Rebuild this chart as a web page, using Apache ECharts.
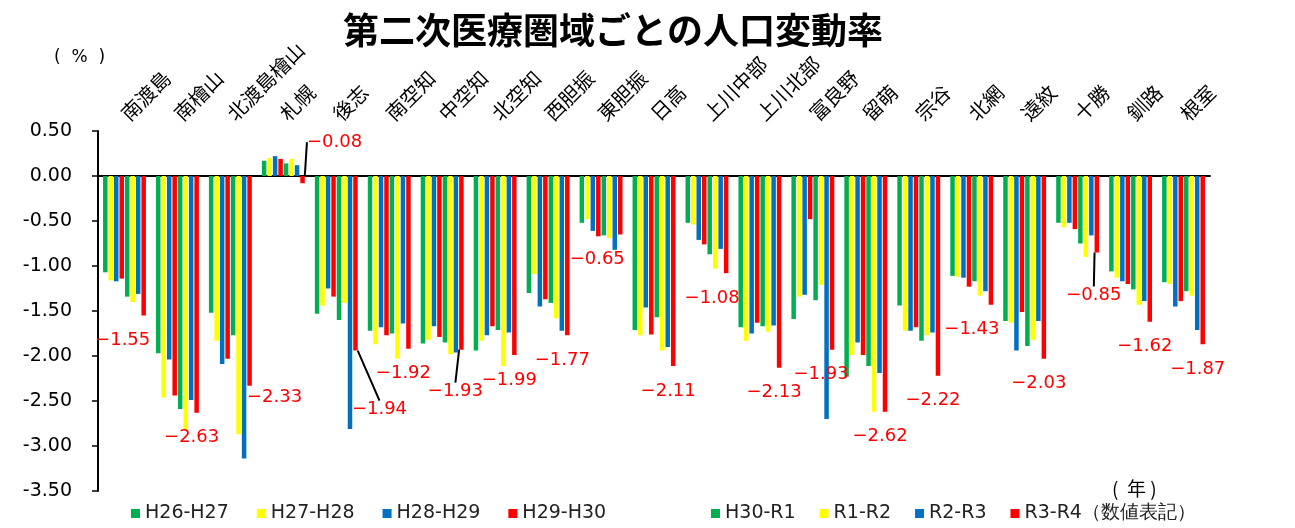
<!DOCTYPE html>
<html>
<head>
<meta charset="utf-8">
<script src="https://cdn.jsdelivr.net/npm/echarts@6/dist/echarts.min.js"></script>
<style>
html,body{margin:0;padding:0;background:#fff;}
#chart{width:1295px;height:528px;}
</style>
</head>
<body>
<div id="chart"></div>
<script>
var categories = ['南渡島','南檜山','北渡島檜山','札幌','後志','南空知','中空知','北空知','西胆振','東胆振','日高','上川中部','上川北部','富良野','留萌','宗谷','北網','遠紋','十勝','釧路','根室'];
var seriesNames = ['H26-H27','H27-H28','H28-H29','H29-H30','H30-R1','R1-R2','R2-R3','R3-R4（数値表記）'];
var h26_h27 = [-1.07,-1.97,-1.52,0.17,-1.53,-1.72,-1.86,-1.94,-1.30,-0.52,-1.71,-0.52,-1.68,-1.59,-2.23,-1.44,-1.11,-1.61,-0.52,-1.06,-1.18];
var h27_h28 = [-1.16,-2.46,-1.83,0.20,-1.44,-1.87,-1.82,-1.83,-1.09,-0.48,-1.77,-0.54,-1.83,-1.34,-1.99,-1.72,-1.12,-1.63,-0.57,-1.13,-1.20];
var h28_h29 = [-1.17,-2.04,-2.09,0.22,-1.25,-1.68,-1.67,-1.77,-1.45,-0.61,-1.46,-0.71,-1.75,-1.32,-1.85,-1.72,-1.13,-1.94,-0.52,-1.17,-1.45];
var h29_h30 = [-1.14,-2.44,-2.03,0.19,-1.34,-1.77,-1.79,-1.67,-1.37,-0.67,-1.76,-0.76,-1.63,-0.48,-1.99,-1.68,-1.23,-1.51,-0.59,-1.20,-1.39];
var h30_r1  = [-1.34,-2.59,-1.77,0.14,-1.60,-1.75,-1.85,-1.71,-1.41,-0.66,-1.57,-0.87,-1.67,-1.38,-2.11,-1.83,-1.17,-1.89,-0.75,-1.26,-1.28];
var r1_r2   = [-1.40,-2.82,-2.87,0.19,-1.41,-2.03,-1.98,-2.11,-1.58,-0.69,-1.94,-1.03,-1.73,-1.21,-2.62,-1.77,-1.33,-1.82,-0.90,-1.43,-1.33];
var r2_r3   = [-1.31,-2.49,-3.14,0.12,-2.81,-1.64,-1.96,-1.74,-1.72,-0.82,-1.90,-0.81,-1.66,-2.70,-2.19,-1.74,-1.28,-1.61,-0.66,-1.39,-1.71];
var r3_r4   = [-1.55,-2.63,-2.33,-0.08,-1.94,-1.92,-1.93,-1.99,-1.77,-0.65,-2.11,-1.08,-2.13,-1.93,-2.62,-2.22,-1.43,-2.03,-0.85,-1.62,-1.87];
var yTicks = {min:-3.5, max:0.5, interval:0.5};

/* label placement tweaks (style only): shift of the value label from its default spot */
var labelShift = {
  '南渡島':[-21,0], '北渡島檜山':[25,-13], '札幌':[32,-66], '後志':[24,34],
  '中空知':[-6,17], '東胆振':[-23,0], '上川中部':[-14,0], '富良野':[-11,0],
  '北網':[-19,0], '十勝':[-3,18]
};
var withGuide = {'札幌':1, '後志':1, '中空知':1, '十勝':1};

var allValues = [h26_h27,h27_h28,h28_h29,h29_h30,h30_r1,r1_r2,r2_r3,r3_r4];
var colors = ['#00B050','#FFFF00','#0070C0','#FF0000','#00B050','#FFFF00','#0070C0','#FF0000'];

var chart = echarts.init(document.getElementById('chart'), null, {renderer:'canvas'});

var series = allValues.map(function(vals, i){
  var s = {
    name: seriesNames[i],
    type: 'bar',
    xAxisIndex: 0,
    data: vals,
    itemStyle: {color: colors[i]},
    barGap: '22%',
    barCategoryGap: '19%',
    animation: false
  };
  if (i === 7) {
    s.label = {
      show: true,
      position: 'bottom',
      distance: 16,
      color: '#FF0000',
      fontFamily: 'DejaVu Sans',
      fontSize: 18,
      formatter: function(p){ return p.value.toFixed(2).replace('-', '\u2212'); }
    };
    s.labelLine = {show: false};
    s.labelLayout = function(p){
      var sh = labelShift[categories[p.dataIndex]] || [-5, 0];
      return {dx: sh[0], dy: sh[1], hideOverlap: false};
    };
    s.data = vals.map(function(v, k){
      if (withGuide[categories[k]]) {
        return {value: v, labelLine: {show: true, lineStyle: {color: '#000', width: 2}}};
      }
      return v;
    });
  }
  return s;
});

var legendText = {fontFamily: 'DejaVu Sans', fontSize: 19, color: '#222'};

chart.setOption({
  animation: false,
  title: {
    text: '第二次医療圏域ごとの人口変動率',
    left: 338, top: 7,
    textStyle: {fontFamily: 'Noto Sans CJK JP', fontWeight: 'bold', fontSize: 36, color: '#000'}
  },
  legend: [{
    bottom: 0, left: 126, width: 560,
    itemWidth: 9, itemHeight: 9, itemGap: 28,
    icon: 'rect',
    textStyle: legendText,
    data: seriesNames.slice(0, 4)
  },{
    bottom: 0, left: 706, width: 589,
    itemWidth: 9, itemHeight: 9, itemGap: 24,
    icon: 'rect',
    textStyle: legendText,
    data: seriesNames.slice(4)
  }],
  grid: {left: 98, right: 85, top: 131, bottom: 37, containLabel: false},
  xAxis: [{
    type: 'category',
    data: categories,
    position: 'top',
    axisLine: {show: false, onZero: false},
    axisTick: {show: false},
    axisLabel: {rotate: -45, interval: 0, margin: 14, fontFamily: 'Noto Sans CJK JP', fontSize: 20, color: '#000'}
  },{
    type: 'category',
    data: categories,
    position: 'bottom',
    axisLine: {show: true, onZero: true, lineStyle: {color: '#000', width: 2}},
    axisTick: {show: false},
    axisLabel: {show: false}
  }],
  yAxis: {
    type: 'value',
    min: yTicks.min, max: yTicks.max, interval: yTicks.interval,
    axisLine: {show: true, lineStyle: {color: '#000', width: 2}},
    axisTick: {show: true, length: 6, lineStyle: {color: '#000', width: 1.5}},
    splitLine: {show: false},
    axisLabel: {
      fontFamily: 'DejaVu Sans', fontSize: 19, color: '#000', margin: 26,
      formatter: function(v){ return v.toFixed(2); }
    }
  },
  graphic: [
    {type:'text', left: 54, top: 49, style:{text:'(  %  )', fontFamily:'DejaVu Sans', fontSize: 17, fill:'#000'}},
    {type:'text', left: 1112, top: 479, style:{text:'(  年 )', fontFamily:'Noto Sans CJK JP', fontSize: 19, fill:'#000'}}
  ],
  series: series
});
</script>
</body>
</html>
